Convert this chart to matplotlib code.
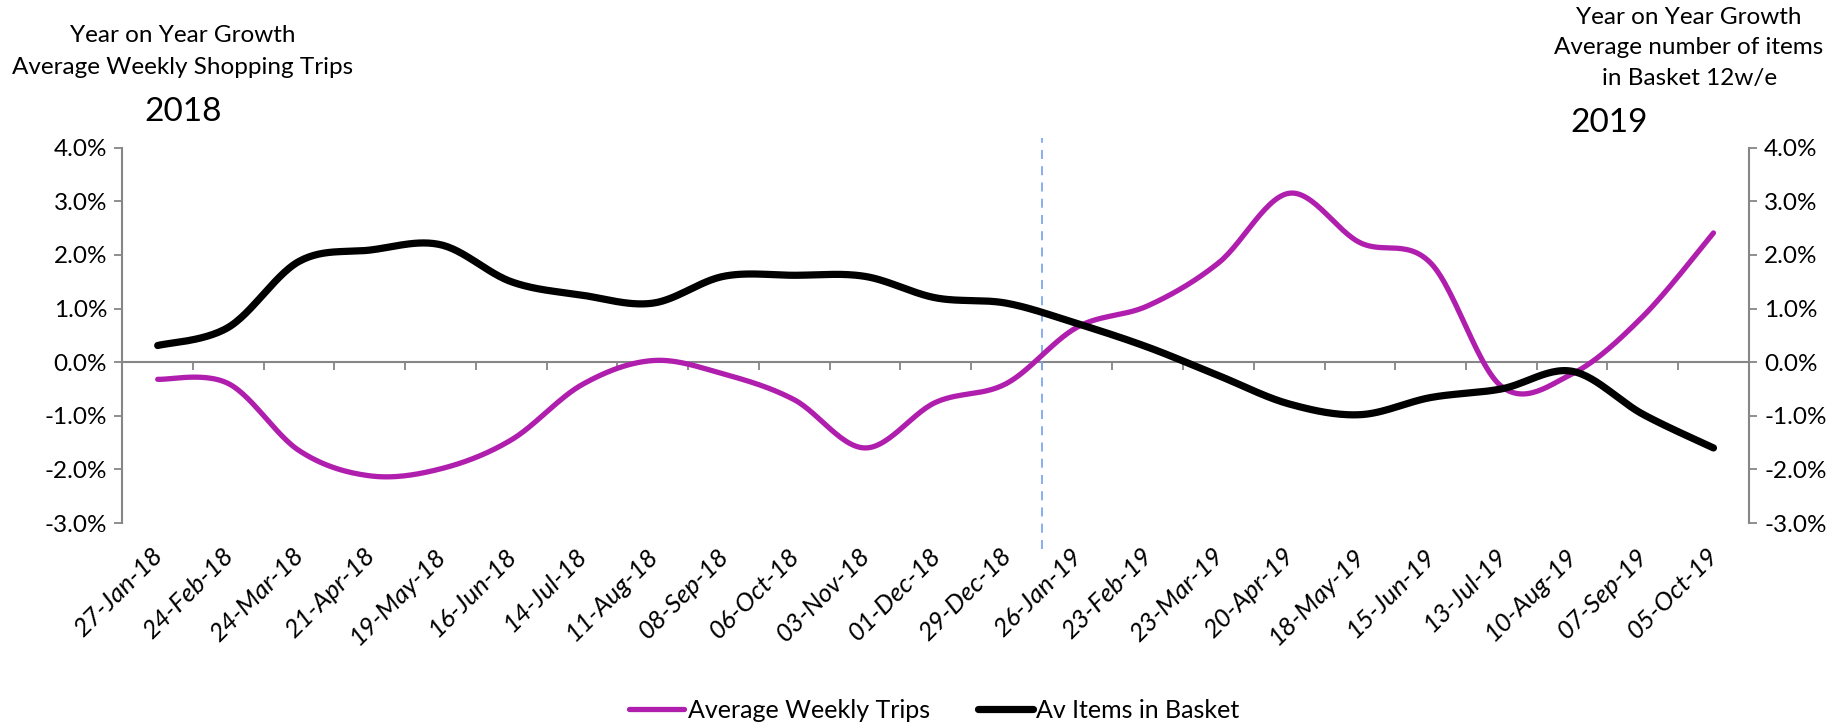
import numpy as np
import matplotlib
matplotlib.use("Agg")
import matplotlib.pyplot as plt
import matplotlib.transforms as mtransforms
from matplotlib.ticker import FixedLocator, FuncFormatter

plt.rcParams['font.family'] = ['Lato', 'DejaVu Sans']

weeks = ['27-Jan-18', '24-Feb-18', '24-Mar-18', '21-Apr-18', '19-May-18', '16-Jun-18',
         '14-Jul-18', '11-Aug-18', '08-Sep-18', '06-Oct-18', '03-Nov-18', '01-Dec-18',
         '29-Dec-18', '26-Jan-19', '23-Feb-19', '23-Mar-19', '20-Apr-19', '18-May-19',
         '15-Jun-19', '13-Jul-19', '10-Aug-19', '07-Sep-19', '05-Oct-19']

# year on year growth, %
weekly_trips = [-0.32, -0.40, -1.65, -2.12, -1.99, -1.45, -0.42, 0.03, -0.22, -0.70,
                -1.60, -0.75, -0.40, 0.65, 1.05, 1.85, 3.15, 2.23, 1.85, -0.45,
                -0.22, 0.85, 2.41]
items_in_basket = [0.31, 0.65, 1.88, 2.09, 2.19, 1.50, 1.25, 1.10, 1.60, 1.62,
                   1.60, 1.20, 1.10, 0.72, 0.28, -0.25, -0.78, -0.98, -0.66, -0.50,
                   -0.17, -0.97, -1.60]

MAGENTA = '#B01EAE'
GREY = '#868686'
FS = 17.5


def smooth(xs, ys, n=30):
    # Catmull-Rom style Bezier curve through the points (like a spreadsheet "smoothed line")
    p = np.column_stack([xs, ys]).astype(float)
    ext = np.vstack([p[0], p, p[-1]])
    out = []
    t = np.linspace(0, 1, n)[:, None]
    for i in range(len(p) - 1):
        p0, p1, p2, p3 = ext[i], ext[i + 1], ext[i + 2], ext[i + 3]
        c1 = p1 + (p2 - p0) / 6.0
        c2 = p2 - (p3 - p1) / 6.0
        seg = ((1 - t) ** 3) * p1 + 3 * ((1 - t) ** 2) * t * c1 + 3 * (1 - t) * t ** 2 * c2 + t ** 3 * p2
        out.append(seg if i == 0 else seg[1:])
    out = np.vstack(out)
    return out[:, 0], out[:, 1]


x = np.arange(len(weeks))

fig = plt.figure(figsize=(18.37, 7.26), dpi=100)
ax = fig.add_axes([0.0666, 0.2796, 0.952 - 0.0666, 0.7966 - 0.2796])
ax2 = ax.twinx()

for a in (ax, ax2):
    a.set_xlim(-0.5, len(weeks) - 0.5)
    a.set_ylim(-3, 4)
    a.yaxis.set_major_locator(FixedLocator(np.arange(-3, 5, 1)))
    a.yaxis.set_major_formatter(FuncFormatter(lambda v, p: f'{v:.1f}%'))
    for s in a.spines.values():
        s.set_visible(False)
    a.tick_params(axis='y', length=6, width=1.3, color=GREY, labelsize=FS, pad=5)

ax.spines['left'].set_visible(True)
ax.spines['left'].set_color(GREY)
ax.spines['left'].set_linewidth(1.5)
ax2.spines['right'].set_visible(True)
ax2.spines['right'].set_color(GREY)
ax2.spines['right'].set_linewidth(1.5)

# category labels along the bottom
ax.set_xticks(x)
ax.set_xticklabels(weeks, rotation=45, ha='right', va='top', rotation_mode='anchor',
                   fontsize=18.5, style='italic')
ax.tick_params(axis='x', length=0, pad=15)
shift = mtransforms.ScaledTranslation(-7 / 100, 0, fig.dpi_scale_trans)
for lbl in ax.get_xticklabels():
    lbl.set_transform(lbl.get_transform() + shift)

# zero line with ticks between categories
zero = ax.secondary_xaxis(3 / 7)
zero.set_xticks(np.arange(-0.5, len(weeks) + 0.5, 1))
zero.set_xticklabels([])
zero.tick_params(axis='x', length=6, width=1.3, color=GREY)
zero.spines['bottom'].set_color(GREY)
zero.spines['bottom'].set_linewidth(1.5)

# year boundary
ax.plot([12.5, 12.5], [-3.48, 4.18], color='#7FA7F0', lw=1.3, ls=(0, (5, 4)),
        clip_on=False, zorder=1)

sx, sy = smooth(x, weekly_trips)
l1, = ax.plot(sx, sy, color=MAGENTA, lw=3.8, solid_capstyle='round',
              label='Average Weekly Trips', zorder=3)
bx, by = smooth(x, items_in_basket)
l2, = ax2.plot(bx, by, color='black', lw=5.2, solid_capstyle='round',
               label='Av Items in Basket', zorder=3)

fig.legend(handles=[l1, l2], loc='center', bbox_to_anchor=(0.5087, 0.022), ncol=2,
           frameon=False, fontsize=18, handlelength=2.2, handletextpad=0.15,
           columnspacing=1.9)

fig.text(0.0993, 1 - 36 / 726, 'Year on Year Growth', ha='center', va='center', fontsize=FS)
fig.text(0.0993, 1 - 68 / 726, 'Average Weekly Shopping Trips', ha='center', va='center', fontsize=FS)
fig.text(0.0999, 1 - 112 / 726, '2018', ha='center', va='center', fontsize=24)

fig.text(0.9195, 1 - 17.5 / 726, 'Year on Year Growth', ha='center', va='center', fontsize=FS)
fig.text(0.9195, 1 - 48 / 726, 'Average number of items', ha='center', va='center', fontsize=FS)
fig.text(0.9195, 1 - 78 / 726, 'in Basket 12w/e', ha='center', va='center', fontsize=FS)
fig.text(0.8757, 1 - 123 / 726, '2019', ha='center', va='center', fontsize=24)

fig.savefig('out.png', dpi=100)
